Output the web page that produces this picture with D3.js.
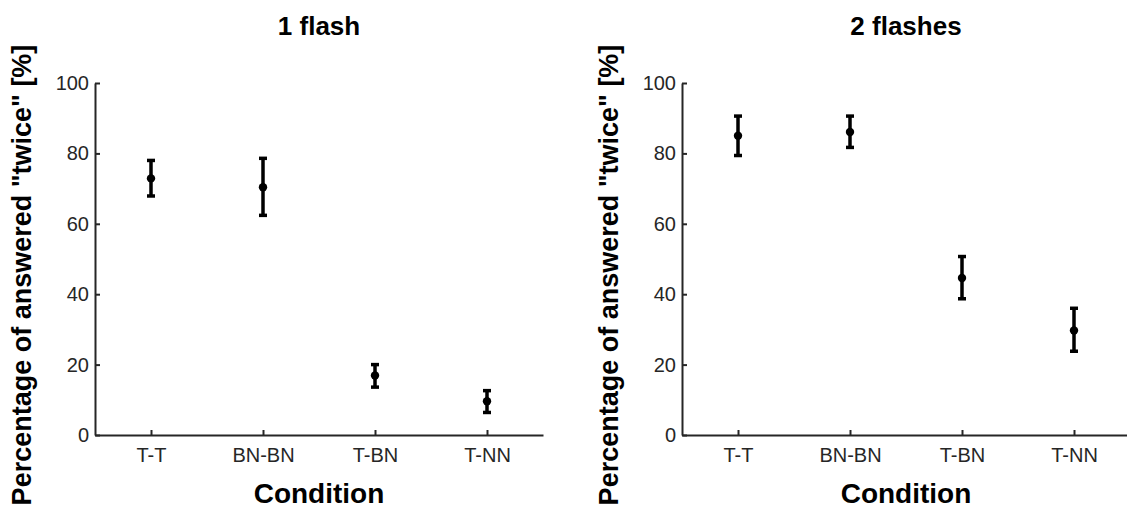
<!DOCTYPE html>
<html>
<head>
<meta charset="utf-8">
<script src="https://cdn.jsdelivr.net/npm/d3@7"></script>
<style>
  html, body { margin: 0; padding: 0; background: #fff; }
  svg { display: block; }
  text { font-family: "Liberation Sans", Arial, Helvetica, sans-serif; }
</style>
</head>
<body>
<svg id="chart" width="1127" height="510"></svg>
<script>
// ---- data ----
const categories = ["T-T", "BN-BN", "T-BN", "T-NN"];
const panelTitles = ["1 flash", "2 flashes"];
const yTicks = [0, 20, 40, 60, 80, 100];

const oneFlashMean  = [72.9, 70.4, 16.9, 9.6];
const oneFlashLow   = [67.9, 62.4, 13.6, 6.4];
const oneFlashHigh  = [78.0, 78.6, 20.0, 12.6];

const twoFlashMean  = [85.0, 86.1, 44.6, 29.7];
const twoFlashLow   = [79.4, 81.7, 38.7, 23.8];
const twoFlashHigh  = [90.6, 90.6, 50.7, 36.0];

const yLabel = 'Percentage of answered "twice" [%]';
const xLabel = "Condition";

// ---- layout ----
const svg = d3.select("#chart");
const panels = [
  { left: 95,  title: panelTitles[0], mean: oneFlashMean, low: oneFlashLow, high: oneFlashHigh },
  { left: 682, title: panelTitles[1], mean: twoFlashMean, low: twoFlashLow, high: twoFlashHigh }
];
const plotW = 448, plotTop = 83, plotBottom = 435;
const axisColor = "#262626";

panels.forEach(p => {
  const g = svg.append("g");
  const x = d3.scaleLinear().domain([0.5, categories.length + 0.5]).range([p.left, p.left + plotW]);
  const y = d3.scaleLinear().domain([0, 100]).range([plotBottom, plotTop]);

  // x axis
  const xAxis = d3.axisBottom(x)
    .tickValues(categories.map((c, i) => i + 1))
    .tickFormat((d) => categories[d - 1])
    .tickSizeInner(-5).tickSizeOuter(0).tickPadding(13);
  const gx = g.append("g").attr("transform", `translate(0,${plotBottom})`).call(xAxis);
  // y axis
  const yAxis = d3.axisLeft(y).tickValues(yTicks).tickSizeInner(-5).tickSizeOuter(0).tickPadding(6);
  const gy = g.append("g").attr("transform", `translate(${p.left},0)`).call(yAxis);

  [gx, gy].forEach(a => {
    a.attr("font-size", null).attr("font-family", null);
    a.select(".domain").attr("stroke", axisColor).attr("stroke-width", 2);
    a.selectAll(".tick line").attr("stroke", axisColor).attr("stroke-width", 2);
    a.selectAll(".tick text").attr("fill", axisColor)
      .style("font-size", "20px").style("font-family", '"Liberation Sans", Arial, sans-serif');
  });

  // error bars
  const capW = 8;
  const eb = g.append("g");
  p.mean.forEach((m, i) => {
    const cx = x(i + 1);
    eb.append("line").attr("x1", cx).attr("x2", cx).attr("y1", y(p.low[i])).attr("y2", y(p.high[i]))
      .attr("stroke", "#000").attr("stroke-width", 3.5);
    [p.low[i], p.high[i]].forEach(v => {
      eb.append("line").attr("x1", cx - capW / 2).attr("x2", cx + capW / 2)
        .attr("y1", y(v)).attr("y2", y(v)).attr("stroke", "#000").attr("stroke-width", 3.5);
    });
    eb.append("circle").attr("cx", cx).attr("cy", y(m)).attr("r", 4.2).attr("fill", "#000");
  });

  const cxm = p.left + plotW / 2;
  // title
  g.append("text").attr("x", cxm).attr("y", 35).attr("text-anchor", "middle")
    .style("font-size", "26px").style("font-weight", "bold").attr("fill", "#000").text(p.title);
  // x label
  g.append("text").attr("x", cxm).attr("y", 503).attr("text-anchor", "middle")
    .style("font-size", "28px").style("font-weight", "bold").attr("fill", "#000").text(xLabel);
  // y label
  g.append("text").attr("transform", `translate(${p.left - 64},275) rotate(-90)`)
    .attr("text-anchor", "middle")
    .style("font-size", "27px").style("font-weight", "bold").attr("fill", "#000").text(yLabel);
});
</script>
</body>
</html>
